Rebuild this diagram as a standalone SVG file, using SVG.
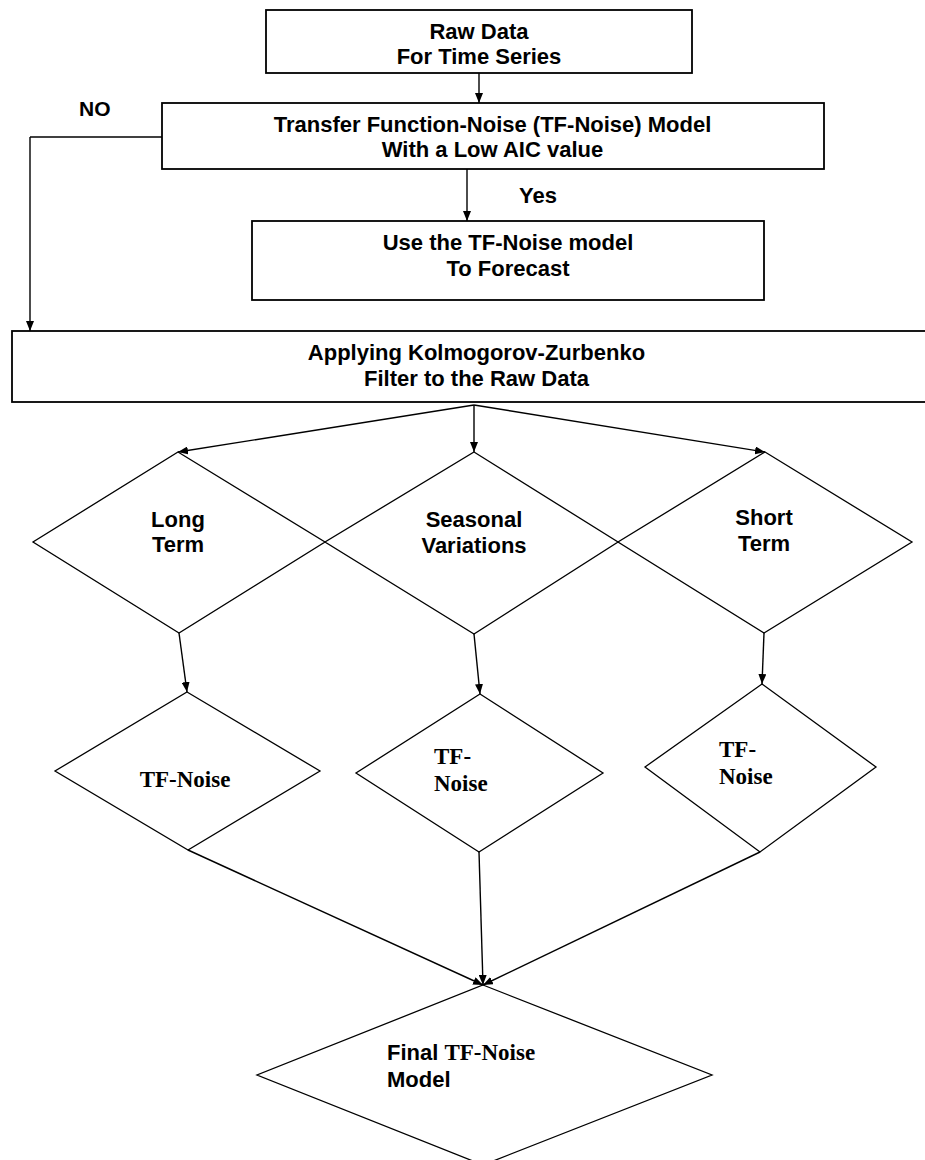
<svg xmlns="http://www.w3.org/2000/svg" width="925" height="1160" viewBox="0 0 925 1160">
<defs>
<marker id="ah" viewBox="0 0 10 8" refX="10" refY="4" markerWidth="10" markerHeight="8" markerUnits="userSpaceOnUse" orient="auto">
<path d="M0,0 L10,4 L0,8 Z" fill="#000"/>
</marker>
</defs>
<style>
.box{fill:#fff;stroke:#000;stroke-width:1.8}
.dia{fill:none;stroke:#000;stroke-width:1.3}
.con{fill:none;stroke:#000;stroke-width:1.4;marker-end:url(#ah)}
.ln{fill:none;stroke:#000;stroke-width:1.4}
.t{font-family:"Liberation Sans",Arial,sans-serif;font-weight:bold;font-size:22px;fill:#000}
.c{text-anchor:middle}
.s{font-family:"Liberation Serif","Times New Roman",serif;font-weight:bold;font-size:23px;fill:#000}
</style>
<rect width="925" height="1160" fill="#fff"/>
<g id="connectors">
<path class="con" d="M479,73 L479,103"/>
<path class="ln" d="M162,137 L30,137"/>
<path class="con" d="M30,137 L30,331"/>
<path class="con" d="M467,169 L467,221"/>
<path class="con" d="M474,405 L178,452"/>
<path class="con" d="M474,405 L474,452"/>
<path class="con" d="M474,405 L765,452"/>
<path class="con" d="M179,633 L187,692"/>
<path class="con" d="M474,634 L480,694"/>
<path class="con" d="M764,633 L762,684"/>
<path class="con" d="M188,850 L483,985"/>
<path class="con" d="M479,852 L483,985"/>
<path class="con" d="M760,852 L483,985"/>
<text class="t" x="79" y="116" style="font-size:21px">NO</text>
<text class="t" x="519" y="203">Yes</text>
</g>
<g id="raw-data">
<rect class="box" x="266" y="10" width="426" height="63"/>
<text class="t c" x="479" y="39">Raw Data</text>
<text class="t c" x="479" y="64">For Time Series</text>
</g>
<g id="tf-noise-model">
<rect class="box" x="162" y="103" width="662" height="66"/>
<text class="t c" x="492.5" y="132">Transfer Function-Noise (TF-Noise) Model</text>
<text class="t c" x="492.5" y="157">With a Low AIC value</text>
</g>
<g id="forecast">
<rect class="box" x="252" y="221" width="512" height="79"/>
<text class="t c" x="508" y="250">Use the TF-Noise model</text>
<text class="t c" x="508" y="276">To Forecast</text>
</g>
<g id="kz-filter">
<rect class="box" x="12" y="331" width="920" height="71"/>
<text class="t c" x="476.5" y="360">Applying Kolmogorov-Zurbenko</text>
<text class="t c" x="476.5" y="386">Filter to the Raw Data</text>
</g>
<g id="long-term">
<path class="dia" d="M178,452 L325,542 L179,633 L33,542 Z"/>
<text class="t c" x="178" y="527">Long</text>
<text class="t c" x="178" y="552">Term</text>
</g>
<g id="seasonal">
<path class="dia" d="M474,452 L618,542 L474,634 L325,542 Z"/>
<text class="t c" x="474" y="527">Seasonal</text>
<text class="t c" x="474" y="553">Variations</text>
</g>
<g id="short-term">
<path class="dia" d="M765,452 L912,542 L764,633 L618,542 Z"/>
<text class="t c" x="764" y="525">Short</text>
<text class="t c" x="764" y="551">Term</text>
</g>
<g id="tf-noise-long">
<path class="dia" d="M187,692 L320,771 L188,850 L55,771 Z"/>
<text class="s c" x="185" y="787">TF-Noise</text>
</g>
<g id="tf-noise-seasonal">
<path class="dia" d="M480,694 L603,773 L479,852 L356,773 Z"/>
<text class="s" x="434" y="764">TF-</text>
<text class="s" x="434" y="791">Noise</text>
</g>
<g id="tf-noise-short">
<path class="dia" d="M762,684 L876,767 L760,852 L645,767 Z"/>
<text class="s" x="719" y="757">TF-</text>
<text class="s" x="719" y="784">Noise</text>
</g>
<g id="final-model">
<path class="dia" d="M483,985 L712,1075 L483,1165 L257,1075 Z"/>
<text x="387" y="1060"><tspan class="t">Final </tspan><tspan class="s">TF-Noise</tspan></text>
<text class="t" x="387" y="1087">Model</text>
</g>
</svg>
